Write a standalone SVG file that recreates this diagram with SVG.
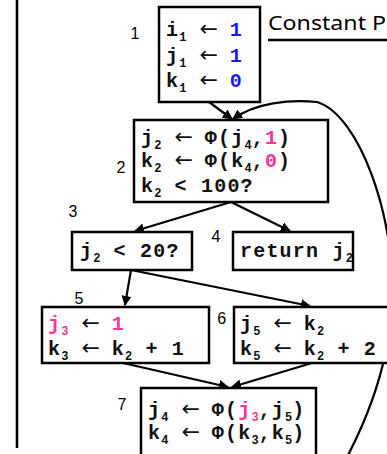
<svg xmlns="http://www.w3.org/2000/svg" width="387" height="454" viewBox="0 0 387 454">
<style>
.box{fill:#fff;stroke:#000;stroke-width:2.5}
.t{font-family:"Liberation Mono","Courier New",monospace;font-weight:bold;font-size:20px;letter-spacing:1.2px;fill:#111;white-space:pre}
.s{font-size:12px;letter-spacing:0}
.a{font-family:"DejaVu Sans",sans-serif;font-weight:normal;font-size:22px;letter-spacing:-1.4px}
.b{fill:#1a1aff}
.p{fill:#ff3399}
.lab{font-family:"Liberation Sans",Arial,sans-serif;font-size:16px;fill:#000;text-anchor:middle}
.e{fill:none;stroke:#000;stroke-width:2.2}
</style>
<defs>
<marker id="ah" viewBox="0 0 10 10" refX="9" refY="5" markerWidth="4.6" markerHeight="4.6" orient="auto" markerUnits="strokeWidth">
<path d="M0,0 L10,5 L0,10 z" fill="#000"/>
</marker>
</defs>
<rect width="387" height="454" fill="#fff"/>
<line x1="17" y1="0" x2="17" y2="448" stroke="#000" stroke-width="2.6"/>
<g id="title">
<text x="268" y="30" font-family="'Noto Sans','Liberation Sans',sans-serif" font-size="19" textLength="118" lengthAdjust="spacingAndGlyphs" fill="#000">Constant P</text>
<line x1="268" y1="40" x2="387" y2="40" stroke="#000" stroke-width="2.5"/>
</g>
<g id="edges">
<path class="e" d="M209,102 L232,119" marker-end="url(#ah)"/>
<path class="e" d="M340,470 C368,420 390,360 392,300 C396,220 360,115 317,102 C290,99 255,103 233,119" marker-end="url(#ah)"/>
<path class="e" d="M231,202 L135,231" marker-end="url(#ah)"/>
<path class="e" d="M231,202 L290,231" marker-end="url(#ah)"/>
<path class="e" d="M131,270 L125,305" marker-end="url(#ah)"/>
<path class="e" d="M131,270 L310,306" marker-end="url(#ah)"/>
<path class="e" d="M123,363 L228,387" marker-end="url(#ah)"/>
<path class="e" d="M312,363 L232,387" marker-end="url(#ah)"/>
</g>
<g id="n1">
<rect class="box" x="159" y="7" width="101" height="95"/>
<text class="lab" x="135" y="39">1</text>
<text class="t" x="166" y="36">i<tspan class="s" dy="5">1</tspan><tspan dy="-5"> </tspan><tspan class="a">←</tspan> <tspan class="b">1</tspan></text>
<text class="t" x="166" y="61.5">j<tspan class="s" dy="5">1</tspan><tspan dy="-5"> </tspan><tspan class="a">←</tspan> <tspan class="b">1</tspan></text>
<text class="t" x="166" y="86.5">k<tspan class="s" dy="5">1</tspan><tspan dy="-5"> </tspan><tspan class="a">←</tspan> <tspan class="b">0</tspan></text>
</g>
<g id="n2">
<rect class="box" x="134" y="120" width="194" height="82"/>
<text class="lab" x="121" y="173">2</text>
<text class="t" x="141" y="144">j<tspan class="s" dy="5">2</tspan><tspan dy="-5"> </tspan><tspan class="a">←</tspan> Φ(j<tspan class="s" dy="5">4</tspan><tspan dy="-5">,</tspan><tspan class="p">1</tspan>)</text>
<text class="t" x="141" y="167">k<tspan class="s" dy="5">2</tspan><tspan dy="-5"> </tspan><tspan class="a">←</tspan> Φ(k<tspan class="s" dy="5">4</tspan><tspan dy="-5">,</tspan><tspan class="p">0</tspan>)</text>
<text class="t" x="141" y="192">k<tspan class="s" dy="5">2</tspan><tspan dy="-5"> &lt; 100?</tspan></text>
</g>
<g id="n3">
<rect class="box" x="72" y="232" width="120" height="38"/>
<text class="lab" x="73" y="217">3</text>
<text class="t" x="80" y="257">j<tspan class="s" dy="5">2</tspan><tspan dy="-5"> &lt; 20?</tspan></text>
</g>
<g id="n4">
<rect class="box" x="233" y="232" width="120" height="38"/>
<text class="lab" x="216" y="242">4</text>
<text class="t" x="240" y="257">return j<tspan class="s" dy="5">2</tspan></text>
</g>
<g id="n5">
<rect class="box" x="42" y="307" width="167" height="56"/>
<text class="lab" x="79" y="303.5">5</text>
<text class="t" x="48" y="329.5"><tspan class="p">j</tspan><tspan class="s p" dy="5">3</tspan><tspan dy="-5"> </tspan><tspan class="a">←</tspan> <tspan class="p">1</tspan></text>
<text class="t" x="48" y="355">k<tspan class="s" dy="5">3</tspan><tspan dy="-5"> </tspan><tspan class="a">←</tspan> k<tspan class="s" dy="5">2</tspan><tspan dy="-5"> + 1</tspan></text>
</g>
<g id="n6">
<rect class="box" x="234" y="307" width="170" height="56"/>
<text class="lab" x="221.7" y="323.5">6</text>
<text class="t" x="240" y="329.5">j<tspan class="s" dy="5">5</tspan><tspan dy="-5"> </tspan><tspan class="a">←</tspan> k<tspan class="s" dy="5">2</tspan></text>
<text class="t" x="240" y="355">k<tspan class="s" dy="5">5</tspan><tspan dy="-5"> </tspan><tspan class="a">←</tspan> k<tspan class="s" dy="5">2</tspan><tspan dy="-5"> + 2</tspan></text>
</g>
<g id="n7">
<rect class="box" x="141" y="388" width="175" height="75"/>
<text class="lab" x="122" y="410">7</text>
<text class="t" x="148" y="415.5">j<tspan class="s" dy="5">4</tspan><tspan dy="-5"> </tspan><tspan class="a">←</tspan> Φ(<tspan class="p">j</tspan><tspan class="s p" dy="5">3</tspan><tspan dy="-5">,j</tspan><tspan class="s" dy="5">5</tspan><tspan dy="-5">)</tspan></text>
<text class="t" x="148" y="438.5">k<tspan class="s" dy="5">4</tspan><tspan dy="-5"> </tspan><tspan class="a">←</tspan> Φ(k<tspan class="s" dy="5">3</tspan><tspan dy="-5">,k</tspan><tspan class="s" dy="5">5</tspan><tspan dy="-5">)</tspan></text>
</g>
</svg>
